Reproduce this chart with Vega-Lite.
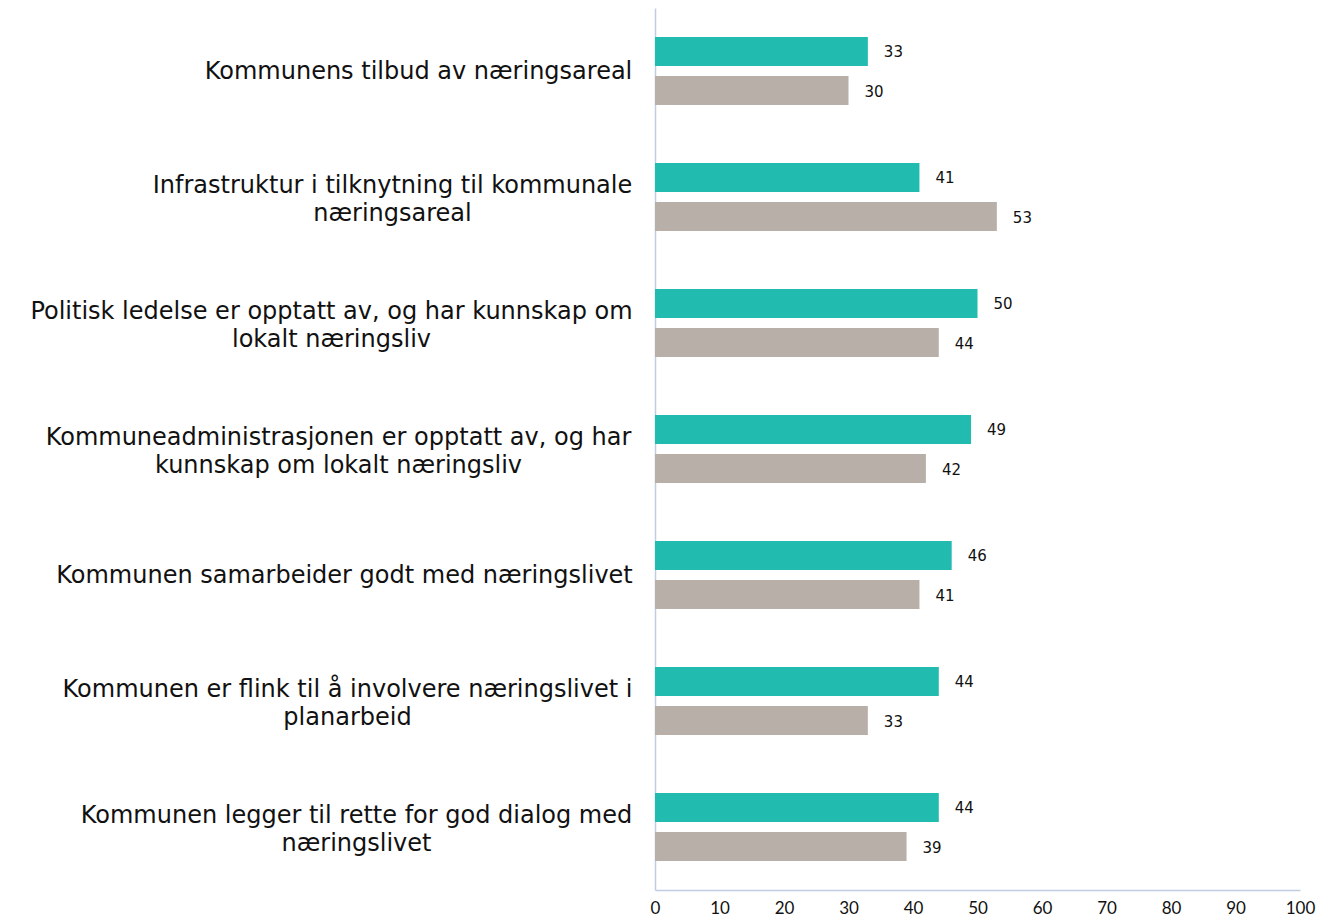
{
  "$schema": "https://vega.github.io/schema/vega-lite/v6.json",
  "autosize": "none",
  "width": 645,
  "height": 882,
  "padding": {"left": 655, "top": 8, "right": 20, "bottom": 30},
  "background": "white",
  "config": {"view": {"stroke": null}},
  "data": {"values": [
    {"kat": "Kommunens tilbud av næringsareal", "serie": "Serie 1", "verdi": 33},
    {"kat": "Kommunens tilbud av næringsareal", "serie": "Serie 2", "verdi": 30},
    {"kat": "Infrastruktur i tilknytning til kommunale|næringsareal", "serie": "Serie 1", "verdi": 41},
    {"kat": "Infrastruktur i tilknytning til kommunale|næringsareal", "serie": "Serie 2", "verdi": 53},
    {"kat": "Politisk ledelse er opptatt av, og har kunnskap om|lokalt næringsliv", "serie": "Serie 1", "verdi": 50},
    {"kat": "Politisk ledelse er opptatt av, og har kunnskap om|lokalt næringsliv", "serie": "Serie 2", "verdi": 44},
    {"kat": "Kommuneadministrasjonen er opptatt av, og har|kunnskap om lokalt næringsliv", "serie": "Serie 1", "verdi": 49},
    {"kat": "Kommuneadministrasjonen er opptatt av, og har|kunnskap om lokalt næringsliv", "serie": "Serie 2", "verdi": 42},
    {"kat": "Kommunen samarbeider godt med næringslivet", "serie": "Serie 1", "verdi": 46},
    {"kat": "Kommunen samarbeider godt med næringslivet", "serie": "Serie 2", "verdi": 41},
    {"kat": "Kommunen er flink til å involvere næringslivet i|planarbeid", "serie": "Serie 1", "verdi": 44},
    {"kat": "Kommunen er flink til å involvere næringslivet i|planarbeid", "serie": "Serie 2", "verdi": 33},
    {"kat": "Kommunen legger til rette for god dialog med|næringslivet", "serie": "Serie 1", "verdi": 44},
    {"kat": "Kommunen legger til rette for god dialog med|næringslivet", "serie": "Serie 2", "verdi": 39}
  ]},
  "encoding": {
    "y": {
      "field": "kat", "type": "nominal", "sort": null, "title": null,
      "scale": {"paddingInner": 0.46, "paddingOuter": 0.23},
      "axis": {
        "labelExpr": "split(datum.label, '|')",
        "labelFont": "DejaVu Sans", "labelFontSize": 24, "labelColor": "#111111",
        "labelLineHeight": 28, "labelLimit": 700,
        "labelAlign": "center",
        "labelPadding": {"expr": "indexof(datum.label, 'Kommunens tilbud') == 0 ? 237 : indexof(datum.label, 'Infrastruktur') == 0 ? 263 : indexof(datum.label, 'Politisk') == 0 ? 324 : indexof(datum.label, 'Kommuneadm') == 0 ? 317 : indexof(datum.label, 'Kommunen samarbeider') == 0 ? 311 : indexof(datum.label, 'Kommunen er flink') == 0 ? 308 : 299"},
        "labelOffset": {"expr": "indexof(datum.label, '|') >= 0 ? -11 : 1"},
        "ticks": false, "domainColor": "#BFCDE0", "domainWidth": 1.5, "grid": false
      }
    },
    "yOffset": {"field": "serie", "type": "nominal", "scale": {"paddingInner": 0.256, "paddingOuter": 0}},
    "x": {
      "field": "verdi", "type": "quantitative", "title": null,
      "scale": {"domain": [0, 100]},
      "axis": {
        "values": [0, 10, 20, 30, 40, 50, 60, 70, 80, 90, 100],
        "labelFont": "Lato", "labelFontSize": 17, "labelColor": "#111111",
        "labelPadding": 10, "labelFlush": false,
        "ticks": false, "domainColor": "#BFCDE0", "domainWidth": 1.5, "grid": false
      }
    }
  },
  "layer": [
    {
      "mark": {"type": "bar"},
      "encoding": {
        "color": {"field": "serie", "type": "nominal", "legend": null,
          "scale": {"domain": ["Serie 1", "Serie 2"], "range": ["#21BBB0", "#B8AFA9"]}}
      }
    },
    {
      "mark": {"type": "text", "align": "left", "dx": 16, "dy": 1, "font": "DejaVu Sans", "fontSize": 15, "color": "#111111"},
      "encoding": {"text": {"field": "verdi", "type": "quantitative"}}
    }
  ]
}
